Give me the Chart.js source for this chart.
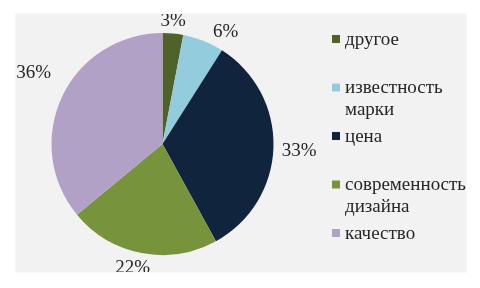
<!DOCTYPE html>
<html>
<head>
<meta charset="utf-8">
<script src="https://cdn.jsdelivr.net/npm/chart.js@4/dist/chart.umd.min.js"></script>
<style>
  html, body { margin: 0; padding: 0; background: #ffffff; }
  #panel {
    position: absolute; left: 16px; top: 14px;
    width: 450px; height: 258px;
    background: #f2f2f2;
    box-shadow: 0 0 0 1px #f8f8f8;
  }
  canvas { display: block; }
</style>
</head>
<body>
<div id="panel"><canvas id="chart" width="450" height="258"></canvas></div>
<script>
const categories = ['другое', 'известность марки', 'цена', 'современность дизайна', 'качество'];
const legendLines = [['другое'], ['известность', 'марки'], ['цена'], ['современность', 'дизайна'], ['качество']];
const shares = [3, 6, 33, 22, 36];
const sliceColors = ['#4f6228', '#93cddd', '#10243e', '#77933c', '#b2a1c7'];

(() => {
  const FONT = "'Liberation Serif', 'Times New Roman', serif";
  const TEXT_COLOR = '#262626';

  // percent labels just outside each slice, pushed out by the text box
  const outsideLabels = {
    id: 'outsideLabels',
    afterDatasetsDraw(chart, args, opts) {
      const { ctx } = chart;
      const meta = chart.getDatasetMeta(0);
      const total = shares.reduce((a, b) => a + b, 0);
      const nudge = opts.nudge || [];
      ctx.save();
      ctx.font = '19px ' + FONT;
      ctx.fillStyle = TEXT_COLOR;
      ctx.textAlign = 'center';
      ctx.textBaseline = 'middle';
      meta.data.forEach((arc, i) => {
        const mid = (arc.startAngle + arc.endAngle) / 2;
        const text = Math.round((shares[i] / total) * 100) + '%';
        const w = ctx.measureText(text).width;
        const h = 14;
        const cos = Math.cos(mid);
        const sin = Math.sin(mid);
        const dist = arc.outerRadius + 6 + Math.abs(cos) * w / 2 + Math.abs(sin) * h / 2;
        const [dx, dy] = nudge[i] || [0, 0];
        ctx.fillText(text, arc.x + cos * dist + dx, arc.y + sin * dist + 1 + dy);
      });
      ctx.restore();
    },
  };

  // right-hand legend with wrapped lines, like the spreadsheet original
  const sideLegend = {
    id: 'sideLegend',
    afterDraw(chart) {
      const { ctx } = chart;
      const x0 = 316;
      const y0 = 25;
      const step = 48.5;
      const lineH = 22;
      ctx.save();
      ctx.font = '19px ' + FONT;
      ctx.textAlign = 'left';
      ctx.textBaseline = 'middle';
      legendLines.forEach((lines, i) => {
        const y = y0 + i * step;
        ctx.fillStyle = sliceColors[i];
        ctx.fillRect(x0, y - 4, 8, 8);
        ctx.fillStyle = TEXT_COLOR;
        lines.forEach((line, k) => ctx.fillText(line, x0 + 13, y + k * lineH + 1));
      });
      ctx.restore();
    },
  };

  new Chart(document.getElementById('chart'), {
    type: 'pie',
    data: {
      labels: categories,
      datasets: [{
        data: shares,
        backgroundColor: sliceColors,
        borderWidth: 0,
      }],
    },
    options: {
      responsive: false,
      animation: false,
      layout: { padding: { left: 35.5, right: 192.5, top: 19, bottom: 17 } },
      plugins: {
        legend: { display: false },
        tooltip: { enabled: false },
        outsideLabels: { nudge: [[-1, 1], [16, 6], [2, 2], [-6, -2], [-6, -14]] },
      },
    },
    plugins: [outsideLabels, sideLegend],
  });
})();
</script>
</body>
</html>
